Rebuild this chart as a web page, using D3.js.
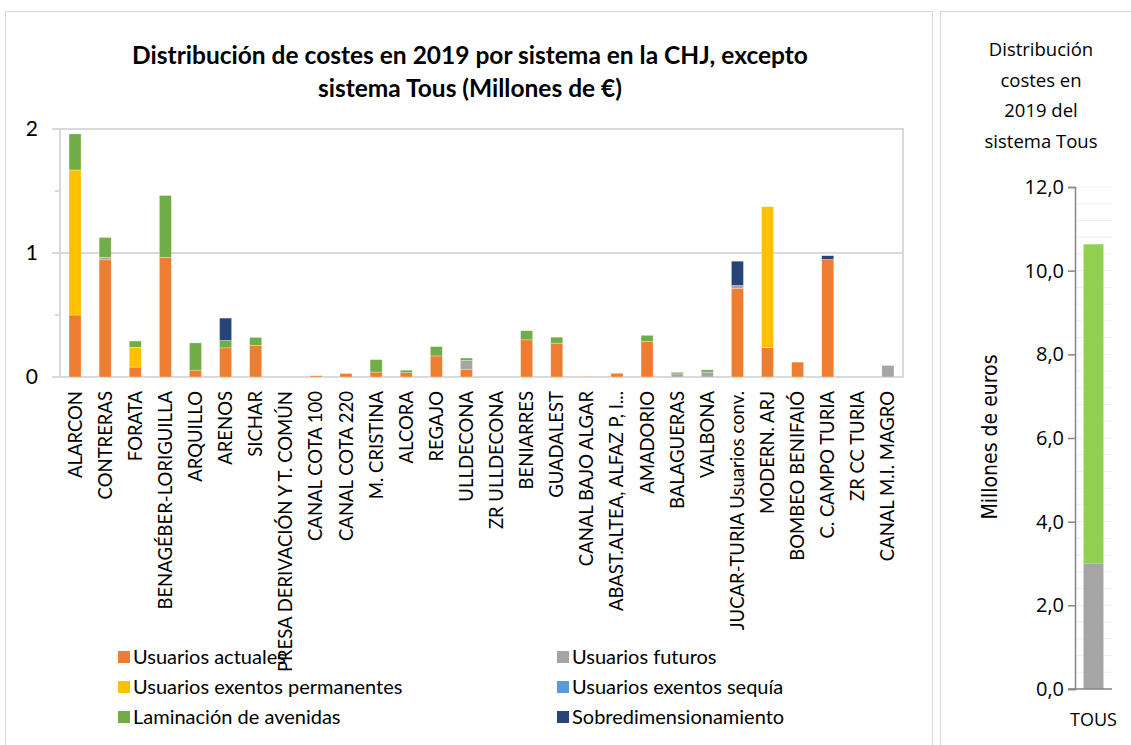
<!DOCTYPE html>
<html lang="es">
<head>
<meta charset="UTF-8" />
<title>Distribución de costes 2019</title>
<script src="https://d3js.org/d3.v7.min.js"></script>
<style>
  body { margin: 0; background: #fff; }
  text { font-family: Lato, "Open Sans", sans-serif; fill: #000; }
</style>
</head>
<body>
<div id="chart"></div>
<script>
// categories (left chart)
var categories = ["ALARCON", "CONTRERAS", "FORATA", "BENAGÉBER-LORIGUILLA", "ARQUILLO", "ARENOS",
  "SICHAR", "PRESA DERIVACIÓN Y T. COMÚN", "CANAL COTA 100", "CANAL COTA 220", "M. CRISTINA",
  "ALCORA", "REGAJO", "ULLDECONA", "ZR ULLDECONA", "BENIARRES", "GUADALEST", "CANAL BAJO ALGAR",
  "ABAST.ALTEA, ALFAZ P, I...", "AMADORIO", "BALAGUERAS", "VALBONA", "JUCAR-TURIA Usuarios conv.",
  "MODERN. ARJ", "BOMBEO BENIFAIÓ", "C. CAMPO TURIA", "ZR CC TURIA", "CANAL M.I. MAGRO"];

// series values, millones de euros
var actuales     = [0.50, 0.945, 0.08, 0.964, 0.055, 0.235, 0.254, 0, 0.01, 0.028, 0.04, 0.035, 0.17, 0.063, 0, 0.30, 0.273, 0.005, 0.03, 0.286, 0, 0, 0.716, 0.238, 0.12, 0.948, 0, 0];
var futuros      = [0, 0.02, 0, 0, 0, 0, 0, 0, 0, 0, 0, 0, 0, 0.07, 0, 0, 0, 0, 0, 0, 0.025, 0.04, 0.022, 0, 0, 0, 0, 0.093];
var permanentes  = [1.17, 0, 0.16, 0, 0, 0, 0, 0, 0, 0, 0, 0, 0, 0, 0, 0, 0, 0, 0, 0, 0, 0, 0, 1.135, 0, 0, 0, 0];
var sequia       = [0, 0, 0, 0, 0, 0, 0, 0, 0, 0, 0, 0, 0, 0, 0, 0, 0, 0, 0, 0, 0, 0, 0, 0, 0, 0, 0, 0];
var laminacion   = [0.29, 0.16, 0.05, 0.50, 0.22, 0.06, 0.065, 0, 0, 0, 0.10, 0.02, 0.075, 0.02, 0, 0.073, 0.048, 0, 0, 0.05, 0.013, 0.018, 0, 0, 0, 0, 0, 0];
var sobredim     = [0, 0, 0, 0, 0, 0.18, 0, 0, 0, 0, 0, 0, 0, 0, 0, 0, 0, 0, 0, 0, 0, 0, 0.196, 0, 0, 0.03, 0, 0];

var seriesNames = ["Usuarios actuales", "Usuarios futuros", "Usuarios exentos permanentes",
  "Usuarios exentos sequía", "Laminación de avenidas", "Sobredimensionamiento"];
var seriesColors = ["#ed7d31", "#a5a5a5", "#ffc000", "#5b9bd5", "#70ad47", "#264478"];
var yTicks = [0, 1, 2];

// right chart (Tous)
var tousCategory = ["TOUS"];
var tousFuturos = [3.0];
var tousLaminacion = [7.63];
var tousTicks = [0, 2, 4, 6, 8, 10, 12];

var W = 1131, H = 745;
var svg = d3.select("#chart").append("svg").attr("width", W).attr("height", H);

// panel borders
svg.append("rect").attr("x", 5.5).attr("y", 11.5).attr("width", 927).attr("height", 760)
  .attr("fill", "none").attr("stroke", "#d9d9d9");
svg.append("rect").attr("x", 940.5).attr("y", 11.5).attr("width", 200).attr("height", 760)
  .attr("fill", "none").attr("stroke", "#d9d9d9");

// ---------- left chart ----------
var x = d3.scaleBand().domain(categories).range([60, 903]).paddingInner(0.6).paddingOuter(0.3);
var y = d3.scaleLinear().domain([0, 2]).range([377, 129]);

// gridlines
svg.append("g").selectAll("line").data(yTicks).join("line")
  .attr("x1", 52).attr("x2", 903)
  .attr("y1", function(d){ return y(d); }).attr("y2", function(d){ return y(d); })
  .attr("stroke", "#d9d9d9").attr("stroke-width", 2);
// minor ticks
svg.append("g").selectAll("line").data([0.5, 1.5]).join("line")
  .attr("x1", 55).attr("x2", 60)
  .attr("y1", function(d){ return y(d); }).attr("y2", function(d){ return y(d); })
  .attr("stroke", "#d9d9d9").attr("stroke-width", 2);
// axis lines / plot border
svg.append("line").attr("x1", 60).attr("x2", 60).attr("y1", y(2)).attr("y2", y(0))
  .attr("stroke", "#d9d9d9").attr("stroke-width", 2);
svg.append("line").attr("x1", 903).attr("x2", 903).attr("y1", y(2) - 1).attr("y2", y(0) + 1)
  .attr("stroke", "#d9d9d9").attr("stroke-width", 2);

svg.append("g").selectAll("text").data(yTicks).join("text")
  .attr("x", 38).attr("y", function(d){ return y(d); }).attr("dy", "0.35em")
  .attr("text-anchor", "end").style("font-size", "21px").text(function(d){ return d; });

var table = categories.map(function(c, i) {
  return { cat: c, s0: actuales[i], s1: futuros[i], s2: permanentes[i], s3: sequia[i], s4: laminacion[i], s5: sobredim[i] };
});
var stack = d3.stack().keys(["s0", "s1", "s2", "s3", "s4", "s5"]);
var stacked = stack(table);

svg.append("g").selectAll("g").data(stacked).join("g")
  .attr("fill", function(d, i){ return seriesColors[i]; })
  .selectAll("rect").data(function(d){ return d; }).join("rect")
  .attr("x", function(d){ return x(d.data.cat); })
  .attr("width", x.bandwidth())
  .attr("y", function(d){ return y(d[1]); })
  .attr("height", function(d){ return Math.max(0, y(d[0]) - y(d[1])); })
  .attr("stroke", "#fff").attr("stroke-opacity", 0.5).attr("stroke-width", 0.6);

// category labels
svg.append("g").selectAll("text").data(categories).join("text")
  .attr("transform", function(d){ return "translate(" + (x(d) + x.bandwidth() / 2) + ",391) rotate(-90)"; })
  .attr("dy", "0.35em").attr("text-anchor", "end")
  .style("font-size", "18.5px").text(function(d){ return d; });

// title
svg.append("text").attr("x", 470).attr("y", 55).attr("dy", "0.35em").attr("text-anchor", "middle")
  .style("font-size", "24.5px").style("font-weight", "bold")
  .text("Distribución de costes en 2019 por sistema en la CHJ, excepto");
svg.append("text").attr("x", 470).attr("y", 88).attr("dy", "0.35em").attr("text-anchor", "middle")
  .style("font-size", "24.5px").style("font-weight", "bold")
  .text("sistema Tous (Millones de €)");

// legend
var legend = svg.append("g").selectAll("g").data(seriesNames).join("g")
  .attr("transform", function(d, i){
    var col = i % 2, row = Math.floor(i / 2);
    return "translate(" + (col ? 557 : 118) + "," + (657 + row * 30) + ")";
  });
legend.append("rect").attr("x", 0).attr("y", -6).attr("width", 12).attr("height", 12)
  .attr("fill", function(d, i){ return seriesColors[i]; });
legend.append("text").attr("x", 15).attr("dy", "0.35em").style("font-size", "20px")
  .text(function(d){ return d; });

// ---------- right chart ----------
var x2 = d3.scaleBand().domain(tousCategory).range([1075, 1112]).padding(0.3);
var y2 = d3.scaleLinear().domain([0, 12]).range([689, 187]);

svg.append("g").selectAll("line").data(d3.range(0, 12.01, 0.4)).join("line")
  .attr("x1", 1075).attr("x2", 1112)
  .attr("y1", function(d){ return y2(d); }).attr("y2", function(d){ return y2(d); })
  .attr("stroke", "#f0f0f0").attr("stroke-width", 1);

var tous = [{ cat: "TOUS", f: tousFuturos[0], l: tousLaminacion[0] }];
var tousStack = d3.stack().keys(["f", "l"])(tous);
var tousColors = ["#a5a5a5", "#92d050"];
svg.append("g").selectAll("g").data(tousStack).join("g")
  .attr("fill", function(d, i){ return tousColors[i]; })
  .selectAll("rect").data(function(d){ return d; }).join("rect")
  .attr("x", function(d){ return x2(d.data.cat); })
  .attr("width", x2.bandwidth())
  .attr("y", function(d){ return y2(d[1]); })
  .attr("height", function(d){ return y2(d[0]) - y2(d[1]); });

var axL = svg.append("g").attr("transform", "translate(1075,0)")
  .call(d3.axisLeft(y2).tickValues(tousTicks).tickSize(7).tickPadding(4)
    .tickFormat(function(d){ return d3.format(".1f")(d).replace(".", ","); }));
axL.select(".domain").attr("stroke", "#868686").attr("stroke-width", 1.5);
axL.selectAll(".tick line").attr("stroke", "#868686").attr("stroke-width", 1.5);
axL.selectAll("text").style("font-family", "'Open Sans', sans-serif").style("font-size", "20px").attr("fill", "#000");

svg.append("line").attr("x1", 1068).attr("x2", 1112).attr("y1", y2(0)).attr("y2", y2(0))
  .attr("stroke", "#868686").attr("stroke-width", 1.5);

svg.append("text").attr("x", x2("TOUS") + x2.bandwidth() / 2).attr("y", 720)
  .attr("dy", "0.35em").attr("text-anchor", "middle")
  .style("font-family", "'Open Sans', sans-serif").style("font-size", "18px").text("TOUS");

svg.append("text").attr("transform", "translate(990,437) rotate(-90)")
  .attr("text-anchor", "middle").attr("dy", "0.35em")
  .style("font-family", "'Liberation Sans Narrow', 'DejaVu Sans Condensed', sans-serif")
  .style("font-stretch", "condensed").style("font-size", "21px").text("Millones de euros");

var tTitle = ["Distribución", "costes en", "2019 del", "sistema Tous"];
svg.append("g").selectAll("text").data(tTitle).join("text")
  .attr("x", 1041).attr("y", function(d, i){ return 50 + i * 30.5; }).attr("dy", "0.35em")
  .attr("text-anchor", "middle")
  .style("font-family", "'Open Sans', sans-serif").style("font-size", "18.5px").text(function(d){ return d; });
</script>
</body>
</html>
